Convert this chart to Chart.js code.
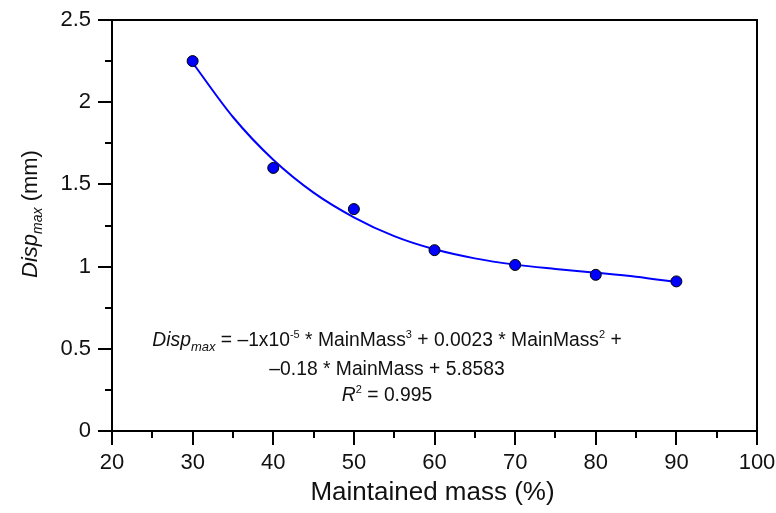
<!DOCTYPE html>
<html><head><meta charset="utf-8">
<script src="https://cdn.jsdelivr.net/npm/chart.js"></script>
<style>html,body{margin:0;padding:0;background:#fff;}canvas{display:block;}</style>
</head><body>
<canvas id="c" width="776" height="513" style="width:776px;height:513px"></canvas>
<script>
// ---- data ----
const massPct = [30, 40, 50, 60, 70, 80, 90];
const dispMax = [2.25, 1.60, 1.35, 1.10, 1.01, 0.95, 0.91];
// fitted curve
const fitMass = [30, 35, 40, 45, 50, 55, 60, 65, 70, 75, 80, 85, 90];
const fitDisp = [2.24, 1.91, 1.65, 1.45, 1.30, 1.185, 1.105, 1.05, 1.012, 0.986, 0.963, 0.938, 0.905];
const xTickLabels = [20, 30, 40, 50, 60, 70, 80, 90, 100];
const yTickLabels = [0, 0.5, 1, 1.5, 2, 2.5];
const xTitle = 'Maintained mass (%)';

const FAMILY = "'Liberation Sans', Arial, sans-serif";
const INK = '#111';

const yTitleRuns = [
  {t: 'Disp', s: 22, i: true},
  {t: 'max', s: 14, i: true, dy: 5},
  {t: ' (mm)', s: 22}
];
const eqLines = [
  [{t: 'Disp', s: 19.3, i: true}, {t: 'max', s: 13, i: true, dy: 5}, {t: ' = \u20131x10', s: 19.3},
   {t: '-5', s: 11, dy: -8}, {t: ' * MainMass', s: 19.3}, {t: '3', s: 11, dy: -8},
   {t: ' + 0.0023 * MainMass', s: 19.3}, {t: '2', s: 11, dy: -8}, {t: ' +', s: 19.3}],
  [{t: '\u20130.18 * MainMass + 5.8583', s: 19.3}],
  [{t: 'R', s: 19.3, i: true}, {t: '2', s: 11, dy: -8}, {t: ' = 0.995', s: 19.3}]
];
const eqBaselines = [345.5, 375, 400.5];
const eqCenterX = 387;

function fnt(r) { return (r.i ? 'italic ' : '') + r.s + 'px ' + FAMILY; }
function drawRuns(ctx, runs, cx, by) {
  let total = 0;
  runs.forEach(r => { ctx.font = fnt(r); r.w = ctx.measureText(r.t).width; total += r.w; });
  let x = cx - total / 2;
  runs.forEach(r => { ctx.font = fnt(r); ctx.fillText(r.t, x, by + (r.dy || 0)); x += r.w; });
}

const decor = {
  id: 'decor',
  afterDraw(chart) {
    const ctx = chart.ctx, a = chart.chartArea;
    const xs = chart.scales.x, ys = chart.scales.y;
    ctx.save();
    ctx.strokeStyle = '#000';
    ctx.lineWidth = 2;
    ctx.strokeRect(a.left, a.top, a.right - a.left, a.bottom - a.top);
    ctx.beginPath();
    for (let v = xs.min; v <= xs.max + 1e-9; v += 5) {
      const major = xTickLabels.some(t => Math.abs(t - v) < 1e-9);
      const px = Math.round(xs.getPixelForValue(v));
      ctx.moveTo(px, a.bottom); ctx.lineTo(px, a.bottom + (major ? 14 : 7));
    }
    for (let v = ys.min; v <= ys.max + 1e-9; v += 0.25) {
      const major = yTickLabels.some(t => Math.abs(t - v) < 1e-9);
      const py = Math.round(ys.getPixelForValue(v));
      ctx.moveTo(a.left, py); ctx.lineTo(a.left - (major ? 14 : 7), py);
    }
    ctx.stroke();
    ctx.fillStyle = INK;
    ctx.textAlign = 'left';
    ctx.textBaseline = 'alphabetic';
    // x title
    drawRuns(ctx, [{t: xTitle, s: 26}], (a.left + a.right) / 2 - 2, 500);
    // y title
    ctx.save();
    ctx.translate(37, 214);
    ctx.rotate(-Math.PI / 2);
    drawRuns(ctx, yTitleRuns, 0, 0);
    ctx.restore();
    // equation
    eqLines.forEach((runs, k) => drawRuns(ctx, runs, eqCenterX, eqBaselines[k]));
    ctx.restore();
  }
};

new Chart(document.getElementById('c'), {
  type: 'scatter',
  data: {
    datasets: [
      {
        label: 'Fit',
        data: fitMass.map((x, k) => ({x: x, y: fitDisp[k]})),
        showLine: true,
        borderColor: '#0000ff',
        borderWidth: 2,
        pointRadius: 0,
        cubicInterpolationMode: 'monotone',
        order: 2
      },
      {
        label: 'Data',
        data: massPct.map((x, k) => ({x: x, y: dispMax[k]})),
        pointRadius: 5.5,
        backgroundColor: '#0000ff',
        borderColor: '#000',
        borderWidth: 1,
        order: 1
      }
    ]
  },
  options: {
    responsive: false,
    animation: false,
    devicePixelRatio: 1,
    layout: {padding: {left: 0, top: 20, right: 19, bottom: 0}},
    plugins: {legend: {display: false}, tooltip: {enabled: false}},
    scales: {
      x: {
        type: 'linear', min: 20, max: 100,
        ticks: {stepSize: 10, color: INK, padding: 19, font: {family: FAMILY, size: 22}, maxRotation: 0,
                callback: v => String(v)},
        grid: {display: false, drawTicks: false},
        border: {display: false},
        afterFit(s) { s.height = 82; s.paddingLeft = 0; s.paddingRight = 0; }
      },
      y: {
        type: 'linear', min: 0, max: 2.5,
        ticks: {stepSize: 0.5, color: INK, padding: 21, font: {family: FAMILY, size: 22},
                callback: v => String(v)},
        grid: {display: false, drawTicks: false},
        border: {display: false},
        afterFit(s) { s.width = 112; s.paddingTop = 0; s.paddingBottom = 0; }
      }
    }
  },
  plugins: [decor]
});
</script>
</body></html>
